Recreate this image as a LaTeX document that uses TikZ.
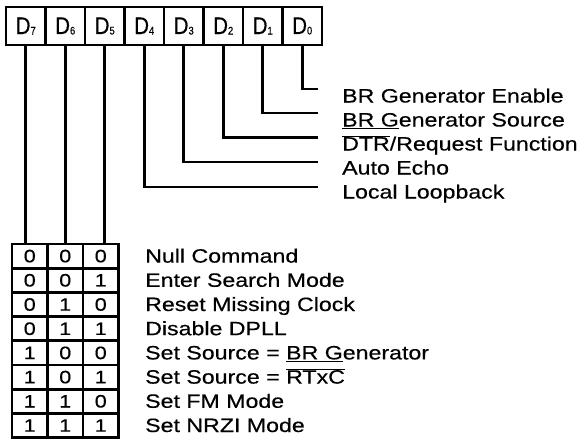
\documentclass[tikz,border=0pt]{standalone}
\usepackage{fontspec}
\setmainfont[FakeStretch=1.2, FakeBold=0.4]{Liberation Sans}
\newfontfamily\regfont[FakeStretch=0.85, FakeBold=0.4]{Liberation Sans}
\usetikzlibrary{positioning}

\newcommand{\ovl}[1]{$\overline{\hbox{#1}}$}

\begin{document}
\begin{tikzpicture}[
    x=1pt, y=-1pt,
    bit/.style={draw, line width=2.8pt, minimum width=39.5pt, minimum height=38pt,
      inner sep=0pt, font=\regfont\fontsize{24}{24}\selectfont},
    cell/.style={draw, line width=2.8pt, minimum width=35.5pt, minimum height=24.2pt,
      inner sep=0pt, font=\fontsize{18}{18}\selectfont},
    lbl/.style={anchor=base west, inner sep=0pt, font=\fontsize{19.3}{19.3}\selectfont},
    wire/.style={line width=2.8pt},
  ]
    \useasboundingbox (0,0) rectangle (585,439);

    % register bits
    \foreach \b [count=\i from 0] in {7,...,0}
      \node[bit] (d\b) at (25.75+39.5*\i, 26) {D\raisebox{-0.5pt}{\fontsize{11}{11}\selectfont\b}};

    % lower three bits: command table
    \foreach \p/\q/\r/\txt [count=\k from 0] in {
        0/0/0/{Null Command},
        0/0/1/{Enter Search Mode},
        0/1/0/{Reset Missing Clock},
        0/1/1/{Disable DPLL},
        1/0/0/{Set Source = \underline{BR G}enerator},
        1/0/1/{Set Source = \ovl{RTxC}},
        1/1/0/{Set FM Mode},
        1/1/1/{Set NRZI Mode}} {
      \node[cell] (t\k a) at (29.75, 256.1+24.2*\k) {\p};
      \node[cell] (t\k b) at (65.25, 256.1+24.2*\k) {\q};
      \node[cell] (t\k c) at (100.75, 256.1+24.2*\k) {\r};
      \node[lbl] (cmd\k) at (145, 262.6+24.2*\k) {\txt};
    }

    \draw[wire] (d7.south) -- (d7.south |- t0a.north);
    \draw[wire] (d6.south) -- (d6.south |- t0b.north);
    \draw[wire] (d5.south) -- (d5.south |- t0c.north);

    % single bit functions
    \coordinate (e0) at (318, 89);
    \coordinate (e1) at (318, 113);
    \coordinate (e2) at (318, 137.5);
    \coordinate (e3) at (318, 162);
    \coordinate (e4) at (318, 187);

    \draw[wire] (d0.south) |- (e0);
    \draw[wire] (d1.south) |- (e1);
    \draw[wire] (d2.south) |- (e2);
    \draw[wire] (d3.south) |- (e3);
    \draw[wire] (d4.south) |- (e4);

    \node[lbl] (f0) at (342, 102.5) {BR Generator Enable};
    \node[lbl] (f1) at (342, 126.5) {\underline{BR G}enerator Source};
    \node[lbl] (f2) at (342, 150.5) {\ovl{DTR}/Request Function};
    \node[lbl] (f3) at (342, 174.5) {Auto Echo};
    \node[lbl] (f4) at (342, 198.5) {Local Loopback};
  \end{tikzpicture}
\end{document}
